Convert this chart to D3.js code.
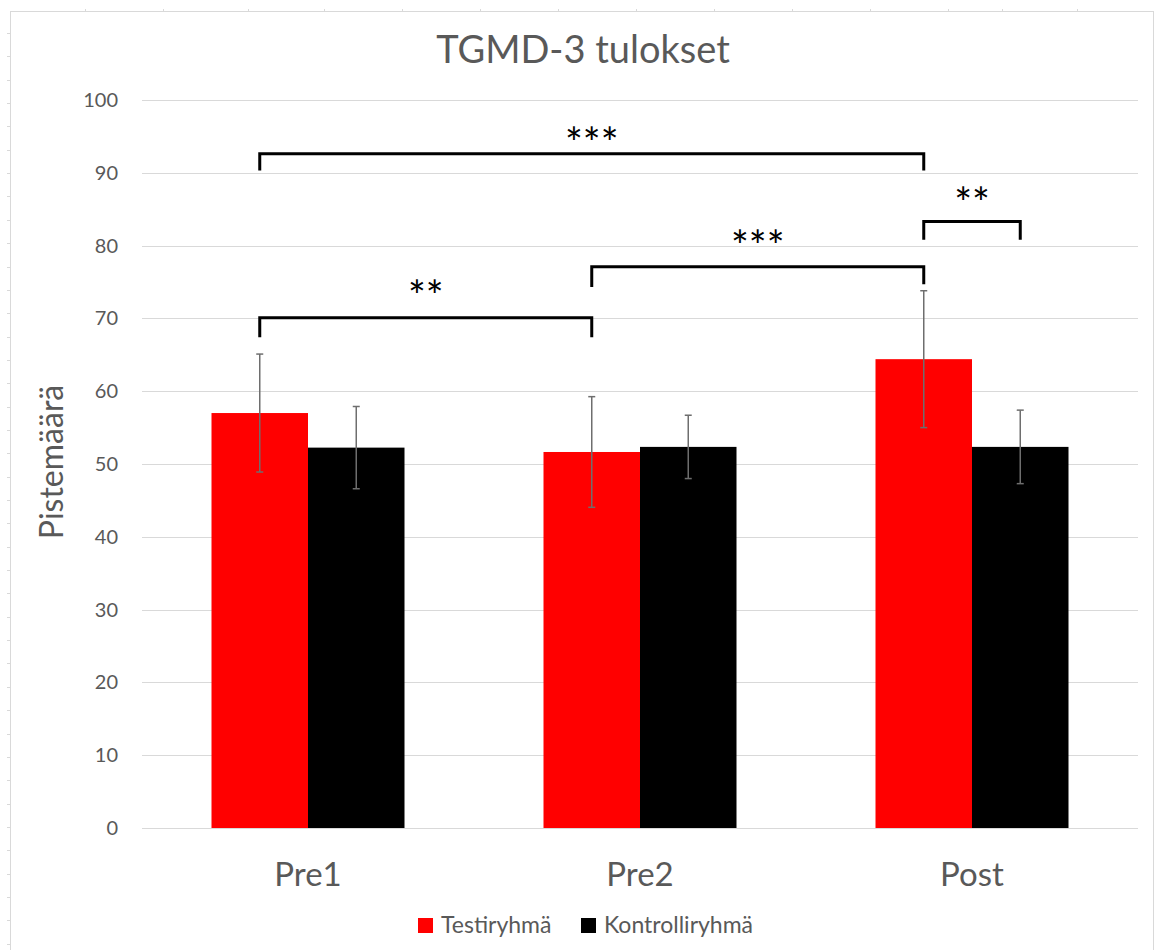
<!DOCTYPE html>
<html><head><meta charset="utf-8">
<script src="https://cdn.jsdelivr.net/npm/d3@7"></script>
<style>body{margin:0;background:#fff}svg{display:block}text{font-family:Lato,"Open Sans",sans-serif}</style>
</head><body>
<script>
const categories = ["Pre1","Pre2","Post"];
const seriesNames = ["Testiryhmä","Kontrolliryhmä"];
const seriesColors = ["#ff0000","#000000"];
const testValues = [57.0, 51.65, 64.4];
const testErrors = [8.1, 7.6, 9.4];
const controlValues = [52.25, 52.35, 52.35];
const controlErrors = [5.65, 4.35, 5.05];
const yTicks = [0,10,20,30,40,50,60,70,80,90,100];
const title = "TGMD-3 tulokset";
const yTitle = "Pistemäärä";
// significance brackets: from [category, series] to [category, series]
const brackets = [
  {from:[0,0], to:[2,0], yTop:92.6, yLeft:90.3, yRight:90.3, label:"***", labelY:95.4},
  {from:[0,0], to:[1,0], yTop:70.1, yLeft:67.4, yRight:67.4, label:"**", labelY:74.3},
  {from:[1,0], to:[2,0], yTop:77.1, yLeft:74.3, yRight:74.7, label:"***", labelY:81.2},
  {from:[2,0], to:[2,1], yTop:83.3, yLeft:80.8, yRight:80.8, label:"**", labelY:87.1}
];

(function(){
const W=1156,H=950;
const svg=d3.select("body").append("svg").attr("width",W).attr("height",H);

// outer frame
const frame=svg.append("g").attr("stroke","#d9d9d9").attr("fill","none");
frame.append("rect").attr("x",10.5).attr("y",11.5).attr("width",1143).attr("height",H);
[85,163,248,324,402,480,558,636,714,792,870,948,1002,1077].forEach(x=>frame.append("line").attr("x1",x+.5).attr("x2",x+.5).attr("y1",9).attr("y2",11.5));
d3.range(33,H,23.35).forEach(yy=>frame.append("line").attr("x1",7).attr("x2",10.5).attr("y1",Math.round(yy)+.5).attr("y2",Math.round(yy)+.5));

const mLeft=142,mRight=1138,mTop=100,mBottom=828;
const x0=d3.scaleBand().domain(categories).range([mLeft,mRight]).paddingInner(0).paddingOuter(0);
const bw=96.5;
const x1=d3.scaleBand().domain(seriesNames).range([x0.bandwidth()/2-bw, x0.bandwidth()/2+bw]);
const y=d3.scaleLinear().domain([0,100]).range([mBottom,mTop]);

// gridlines
svg.append("g").selectAll("line").data(yTicks).join("line")
  .attr("x1",mLeft).attr("x2",mRight)
  .attr("y1",d=>Math.round(y(d))+.5).attr("y2",d=>Math.round(y(d))+.5)
  .attr("stroke","#d9d9d9").attr("stroke-width",1);

// y axis labels
const yAxis=d3.axisLeft(y).tickValues(yTicks).tickSize(0).tickPadding(0);
const ga=svg.append("g").attr("transform",`translate(${118},0)`).call(yAxis);
ga.select(".domain").remove();
ga.selectAll("text").attr("font-size",20).attr("fill","#595959").attr("font-family","Lato,'Open Sans',sans-serif");

// x axis labels
const xAxis=d3.axisBottom(x0).tickSize(0).tickPadding(0);
const gx=svg.append("g").attr("transform",`translate(0,${886})`).call(xAxis);
gx.select(".domain").remove();
gx.selectAll("text").attr("y",0).attr("dy",0).attr("font-size",33).attr("fill","#595959").attr("font-family","Lato,'Open Sans',sans-serif");

const rows=categories.map((c,i)=>({c, vals:[{s:seriesNames[0],v:testValues[i],e:testErrors[i],col:seriesColors[0]},{s:seriesNames[1],v:controlValues[i],e:controlErrors[i],col:seriesColors[1]}]}));

const g=svg.append("g");
const grp=g.selectAll("g").data(rows).join("g").attr("transform",d=>`translate(${x0(d.c)},0)`);
grp.selectAll("rect").data(d=>d.vals).join("rect")
  .attr("x",d=>x1(d.s)).attr("width",x1.bandwidth())
  .attr("y",d=>y(d.v)).attr("height",d=>mBottom-y(d.v)).attr("fill",d=>d.col);
// error bars
const eb=grp.selectAll("g.eb").data(d=>d.vals).join("g").attr("class","eb")
  .attr("stroke","#6e6e6e").attr("stroke-width",1.5);
eb.append("line").attr("x1",d=>x1(d.s)+x1.bandwidth()/2).attr("x2",d=>x1(d.s)+x1.bandwidth()/2)
  .attr("y1",d=>y(d.v+d.e)).attr("y2",d=>y(d.v-d.e));
eb.append("line").attr("x1",d=>x1(d.s)+x1.bandwidth()/2-3.5).attr("x2",d=>x1(d.s)+x1.bandwidth()/2+3.5)
  .attr("y1",d=>y(d.v+d.e)).attr("y2",d=>y(d.v+d.e));
eb.append("line").attr("x1",d=>x1(d.s)+x1.bandwidth()/2-3.5).attr("x2",d=>x1(d.s)+x1.bandwidth()/2+3.5)
  .attr("y1",d=>y(d.v-d.e)).attr("y2",d=>y(d.v-d.e));

// brackets
const bx=([ci,si])=>x0(categories[ci])+x1(seriesNames[si])+x1.bandwidth()/2;
const bg=svg.append("g");
brackets.forEach(b=>{
  const xa=bx(b.from), xb=bx(b.to);
  bg.append("path").attr("d",`M${xa},${y(b.yLeft)}V${y(b.yTop)}H${xb}V${y(b.yRight)}`)
    .attr("fill","none").attr("stroke","#000").attr("stroke-width",3);
  bg.append("text").attr("x",(xa+xb)/2).attr("y",y(b.labelY)).attr("text-anchor","middle")
    .attr("font-size",42).attr("fill","#000")
    .attr("font-family","'DejaVu Sans',sans-serif").attr("dy","0.58em").text(b.label);
});

// title
svg.append("text").attr("x",583).attr("y",63).attr("text-anchor","middle")
  .attr("font-size",38).attr("fill","#595959").text(title);
// y title
svg.append("text").attr("transform",`translate(63,${462}) rotate(-90)`).attr("text-anchor","middle")
  .attr("font-size",32).attr("fill","#595959").text(yTitle);

// legend
const lg=svg.append("g");
const legX=[418,581];
seriesNames.forEach((s,i)=>{
  lg.append("rect").attr("x",legX[i]).attr("y",918).attr("width",15).attr("height",15).attr("fill",seriesColors[i]);
  lg.append("text").attr("x",legX[i]+23).attr("y",933).attr("font-size",23).attr("fill","#595959").text(s);
});
})();
</script>
</body></html>
